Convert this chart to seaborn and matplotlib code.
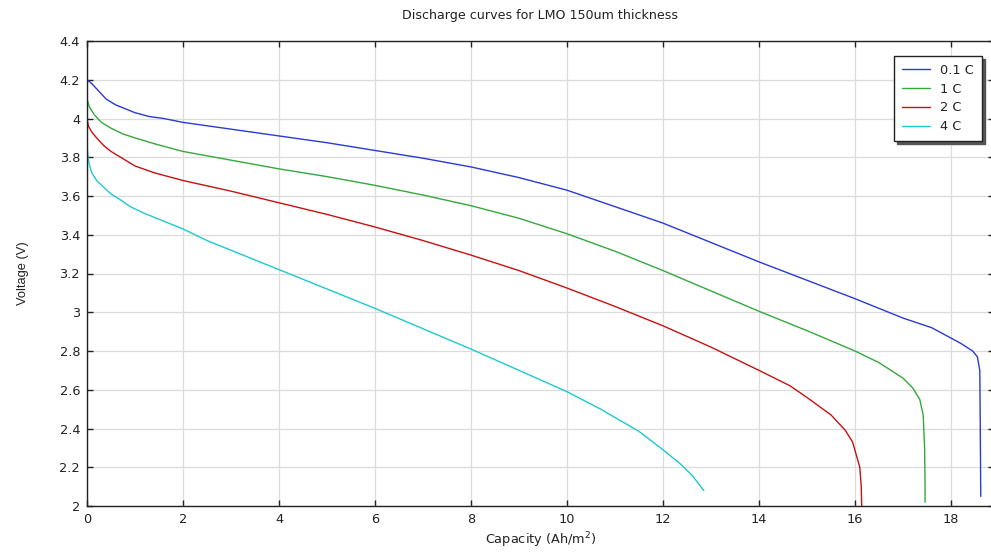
import matplotlib
matplotlib.use("Agg")
import matplotlib.pyplot as plt
import seaborn as sns
import pandas as pd

# ---- data ----
labels = ["0.1 C", "1 C", "2 C", "4 C"]

cap_01 = [0, 0.1, 0.25, 0.4, 0.6, 0.8, 1.0, 1.3, 1.6, 2.0, 3.0, 4.0, 5.0, 6.0, 7.0, 8.0, 9.0,
          10.0, 11.0, 12.0, 13.0, 14.0, 15.0, 16.0, 16.4, 17.0, 17.6, 18.2, 18.45, 18.55, 18.6, 18.61, 18.62]
v_01 = [4.20, 4.18, 4.14, 4.10, 4.07, 4.05, 4.03, 4.01, 4.00, 3.98, 3.945, 3.91, 3.875, 3.835, 3.795, 3.75, 3.695,
        3.63, 3.545, 3.46, 3.36, 3.26, 3.165, 3.07, 3.03, 2.97, 2.92, 2.84, 2.80, 2.77, 2.70, 2.40, 2.05]

cap_1 = [0, 0.05, 0.15, 0.3, 0.5, 0.75, 1.0, 1.4, 2.0, 3.0, 4.0, 5.0, 6.0, 7.0, 8.0, 9.0, 10.0,
         11.0, 12.0, 13.0, 14.0, 15.0, 16.0, 16.5, 17.0, 17.2, 17.35, 17.42, 17.45, 17.46, 17.46]
v_1 = [4.10, 4.06, 4.02, 3.98, 3.95, 3.92, 3.90, 3.87, 3.83, 3.785, 3.74, 3.70, 3.655, 3.605, 3.55, 3.485, 3.405,
       3.315, 3.215, 3.11, 3.005, 2.905, 2.80, 2.74, 2.66, 2.61, 2.55, 2.47, 2.30, 2.10, 2.02]

cap_2 = [0, 0.03, 0.1, 0.2, 0.35, 0.5, 0.7, 1.0, 1.4, 2.0, 3.0, 4.0, 5.0, 6.0, 7.0, 8.0, 9.0, 10.0,
         11.0, 12.0, 13.0, 14.0, 14.65, 15.0, 15.5, 15.8, 15.95, 16.1, 16.13, 16.14]
v_2 = [4.00, 3.96, 3.93, 3.90, 3.86, 3.83, 3.80, 3.755, 3.72, 3.68, 3.625, 3.565, 3.505, 3.44, 3.37, 3.295, 3.215, 3.125,
       3.03, 2.93, 2.82, 2.70, 2.62, 2.56, 2.47, 2.39, 2.33, 2.20, 2.10, 2.00]

cap_4 = [0, 0.02, 0.05, 0.1, 0.2, 0.33, 0.5, 0.7, 0.9, 1.2, 1.6, 2.0, 2.5, 3.0, 4.0, 5.0, 6.0, 7.0,
         8.0, 9.0, 10.0, 10.7, 11.5, 12.0, 12.35, 12.6, 12.85]
v_4 = [3.87, 3.80, 3.76, 3.72, 3.68, 3.65, 3.61, 3.58, 3.545, 3.51, 3.47, 3.43, 3.37, 3.32, 3.22, 3.12, 3.02, 2.915,
       2.81, 2.70, 2.59, 2.50, 2.385, 2.29, 2.22, 2.16, 2.08]

x_ticks = [0, 2, 4, 6, 8, 10, 12, 14, 16, 18]
y_ticks = [2, 2.2, 2.4, 2.6, 2.8, 3, 3.2, 3.4, 3.6, 3.8, 4, 4.2, 4.4]
y_ticklabels = ["2", "2.2", "2.4", "2.6", "2.8", "3", "3.2", "3.4", "3.6", "3.8", "4", "4.2", "4.4"]

colors = ["#2a3ad6", "#35a83c", "#c81010", "#1ccad0"]

frames = []
for lab, c, v in zip(labels, [cap_01, cap_1, cap_2, cap_4], [v_01, v_1, v_2, v_4]):
    frames.append(pd.DataFrame({"cap": c, "volt": v, "rate": lab}))
df = pd.concat(frames, ignore_index=True)

sns.set_style("white")
plt.rcParams["font.family"] = ["DejaVu Sans"]

W, H = 991, 555
fig = plt.figure(figsize=(W / 100, H / 100), dpi=100)
ax = fig.add_axes([87 / W, 1 - 506 / H, (994 - 87) / W, (506 - 41) / H])

sns.lineplot(data=df, x="cap", y="volt", hue="rate", palette=dict(zip(labels, colors)),
             estimator=None, sort=False, units="rate", linewidth=1.0, ax=ax, legend=False)

ax.set_xlim(0, (994 - 87) / 48)
ax.set_ylim(2, 4.4)
ax.set_xticks(x_ticks)
ax.set_xticklabels([str(t) for t in x_ticks])
ax.set_yticks(y_ticks)
ax.set_yticklabels(y_ticklabels)
ax.grid(True, color="#dcdcdc", linewidth=0.9)
ax.tick_params(direction="in", length=4, width=1, colors="#222222", labelsize=9.3,
               top=True, right=True, bottom=True, left=True, pad=5)
for s in ["left", "bottom", "top"]:
    ax.spines[s].set_color("#222222")
    ax.spines[s].set_linewidth(1.0)
ax.spines["right"].set_visible(False)

ax.set_xlabel("Capacity (Ah/m$^2$)", fontsize=9.3, color="#222222", labelpad=3)
ax.set_ylabel("Voltage (V)", fontsize=9.3, color="#222222", family=["Liberation Sans"], labelpad=22)
fig.text(540 / W, 1 - 15 / H, "Discharge curves for LMO 150um thickness", ha="center", va="center",
         fontsize=9.1, color="#222222")

handles = [plt.Line2D([], [], color=c, linewidth=1.0) for c in colors]
leg = ax.legend(handles, labels, loc="upper right", bbox_to_anchor=(982 / W, 1 - 56 / H),
                bbox_transform=fig.transFigure, borderaxespad=0, frameon=True, fancybox=False,
                shadow={"color": "#555555", "alpha": 1.0}, edgecolor="#222222", fontsize=9.3,
                handlelength=2.2, borderpad=0.6, labelspacing=0.45)
leg.get_frame().set_linewidth(1.0)
for t in leg.get_texts():
    t.set_color("#222222")

fig.savefig("out.png", dpi=100)
